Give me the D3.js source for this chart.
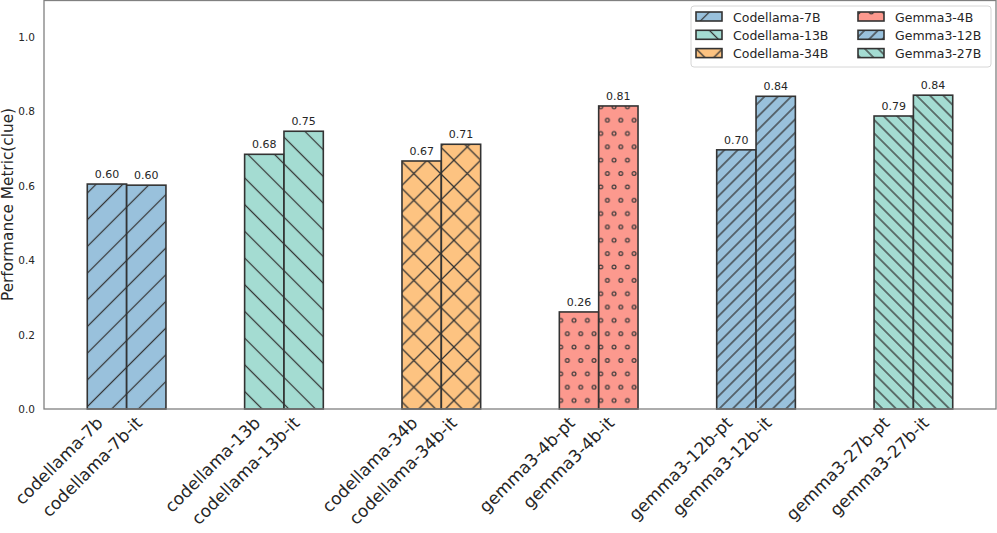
<!DOCTYPE html>
<html>
<head>
<meta charset="utf-8">
<script src="https://cdn.jsdelivr.net/npm/d3@7"></script>
<style>
  body { margin: 0; background: #fff; }
  svg text { font-family: "DejaVu Sans", sans-serif; fill: #262626; }
</style>
</head>
<body>
<script>
// data
let models = ["codellama-7b", "codellama-7b-it", "codellama-13b", "codellama-13b-it",
  "codellama-34b", "codellama-34b-it", "gemma3-4b-pt", "gemma3-4b-it",
  "gemma3-12b-pt", "gemma3-12b-it", "gemma3-27b-pt", "gemma3-27b-it"];
let scores = [0.605, 0.602, 0.685, 0.747, 0.667, 0.712, 0.261, 0.815, 0.697, 0.841, 0.788, 0.844];
let valueLabels = ["0.60", "0.60", "0.68", "0.75", "0.67", "0.71", "0.26", "0.81", "0.70", "0.84", "0.79", "0.84"];
let families = ["Codellama-7B", "Codellama-13B", "Codellama-34B", "Gemma3-4B", "Gemma3-12B", "Gemma3-27B"];
let familyColors = ["#80b1d3", "#8dd3c7", "#fdb462", "#fb8072", "#80b1d3", "#8dd3c7"];
let familyHatch = ["fwd", "back", "cross", "dots", "fwd2", "back2"];
let yTicks = [0.0, 0.2, 0.4, 0.6, 0.8, 1.0];

let w = 997;
let h = 533;
let padLeft = 44, padRight = 996, padTop = 0, padBottom = 409;
let barW = 0.25;

let svg = d3.select("body").append("svg")
  .attr("width", w)
  .attr("height", h);

let xScale = d3.scaleLinear()
  .domain([-0.525, families.length - 1 + 0.525])
  .range([padLeft, padRight]);
let yScale = d3.scaleLinear()
  .domain([0, 1.1])
  .range([padBottom, padTop]);

// hatch patterns (matplotlib-like densities)
let defs = svg.append("defs");
let hatchColor = "#333";
let p1 = 26.7 / Math.SQRT2;
function linePattern(id, angle, spacing) {
  let p = defs.append("pattern")
    .attr("id", id)
    .attr("patternUnits", "userSpaceOnUse")
    .attr("width", spacing)
    .attr("height", spacing)
    .attr("patternTransform", "rotate(" + angle + ")");
  p.append("line")
    .attr("x1", spacing / 2).attr("x2", spacing / 2)
    .attr("y1", 0).attr("y2", spacing)
    .attr("stroke", hatchColor)
    .attr("stroke-width", 1.25);
}
linePattern("fwd", 45, p1);
linePattern("back", -45, p1);
linePattern("fwd2", 45, p1 / 2);
linePattern("back2", -45, p1 / 2);

let cross = defs.append("pattern")
  .attr("id", "cross")
  .attr("patternUnits", "userSpaceOnUse")
  .attr("width", 26.7)
  .attr("height", 26.7);
cross.append("path")
  .attr("d", "M0,0L26.7,26.7M26.7,0L0,26.7")
  .attr("stroke", hatchColor)
  .attr("stroke-width", 1.25)
  .attr("fill", "none");

let dots = defs.append("pattern")
  .attr("id", "dots")
  .attr("patternUnits", "userSpaceOnUse")
  .attr("width", 13.35)
  .attr("height", 26.7);
[[0, 0], [13.35, 0], [0, 26.7], [13.35, 26.7], [6.67, 13.35]].forEach(function(c) {
  dots.append("circle")
    .attr("cx", c[0]).attr("cy", c[1])
    .attr("r", 1.9)
    .attr("fill", "none")
    .attr("stroke", "#3a3a3a")
    .attr("stroke-width", 1.2);
});

// bars
let barData = models.map(function(m, i) {
  let g = Math.floor(i / 2);
  return { name: m, v: scores[i], label: valueLabels[i], g: g, x: g + (i % 2 === 0 ? -barW / 2 : barW / 2) };
});

let bars = svg.append("g").selectAll("g")
  .data(barData)
  .enter()
  .append("g");

bars.append("rect")
  .attr("x", (d) => xScale(d.x - barW / 2))
  .attr("y", (d) => yScale(d.v))
  .attr("width", (d) => xScale(barW) - xScale(0))
  .attr("height", (d) => yScale(0) - yScale(d.v))
  .attr("fill", (d) => familyColors[d.g])
  .attr("fill-opacity", 0.8);
bars.append("rect")
  .attr("x", (d) => xScale(d.x - barW / 2))
  .attr("y", (d) => yScale(d.v))
  .attr("width", (d) => xScale(barW) - xScale(0))
  .attr("height", (d) => yScale(0) - yScale(d.v))
  .attr("fill", (d) => "url(#" + familyHatch[d.g] + ")")
  .attr("stroke", "#333")
  .attr("stroke-width", 1.6);

bars.append("text")
  .attr("x", (d) => xScale(d.x))
  .attr("y", (d) => yScale(d.v) - 6)
  .attr("text-anchor", "middle")
  .style("font-size", "11px")
  .text((d) => d.label);

// spines
svg.append("rect")
  .attr("x", padLeft)
  .attr("y", padTop + 0.5)
  .attr("width", padRight - padLeft)
  .attr("height", padBottom - padTop - 0.5)
  .attr("fill", "none")
  .attr("stroke", "#808080")
  .attr("stroke-width", 1.3);

// y axis
let yAxis = d3.axisLeft(yScale)
  .tickValues(yTicks)
  .tickFormat(d3.format(".1f"))
  .tickSize(0)
  .tickPadding(9);
let yg = svg.append("g")
  .attr("id", "y-axis")
  .attr("transform", "translate(" + padLeft + ",0)")
  .call(yAxis);
yg.select(".domain").remove();
yg.selectAll("text")
  .style("font-size", "10.5px")
  .style("font-family", "DejaVu Sans")
  .attr("fill", "#262626");

svg.append("text")
  .attr("transform", "translate(12.5," + (padBottom + padTop) / 2 + ") rotate(-90)")
  .attr("text-anchor", "middle")
  .style("font-size", "15.3px")
  .text("Performance Metric(clue)");

// x labels, rotated like matplotlib rotation=45, ha=right
svg.append("g").selectAll("text")
  .data(barData)
  .enter()
  .append("text")
  .attr("transform", (d) => "translate(" + (xScale(d.x) - 3) + ",424) rotate(-45)")
  .attr("text-anchor", "end")
  .style("font-size", "17px")
  .text((d) => d.name);

// legend
let legend = svg.append("g").attr("transform", "translate(691,6)");
legend.append("rect")
  .attr("width", 300)
  .attr("height", 61)
  .attr("rx", 3)
  .attr("fill", "#fff")
  .attr("fill-opacity", 0.8)
  .attr("stroke", "#d6d6d6")
  .attr("stroke-width", 1);
let items = legend.selectAll("g.item")
  .data(families)
  .enter()
  .append("g")
  .attr("class", "item")
  .attr("transform", (d, i) => "translate(" + (i < 3 ? 5 : 167) + "," + (6 + (i % 3) * 18.3) + ")");
items.append("rect")
  .attr("width", 26).attr("height", 9)
  .attr("fill", (d, i) => familyColors[i])
  .attr("fill-opacity", 0.8);
items.append("rect")
  .attr("width", 26).attr("height", 9)
  .attr("fill", (d, i) => "url(#" + familyHatch[i] + ")")
  .attr("stroke", "#333")
  .attr("stroke-width", 1.6);
items.append("text")
  .attr("x", 37)
  .attr("y", 9.5)
  .style("font-size", "12.5px")
  .text((d) => d);
</script>
</body>
</html>
